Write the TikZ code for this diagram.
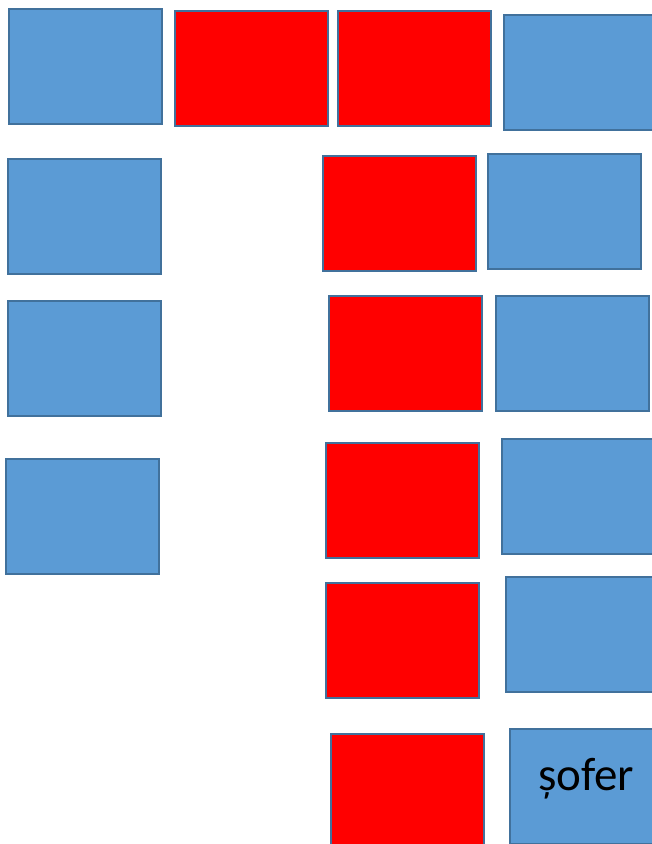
\documentclass[tikz,border=0pt]{standalone}
\usepackage{fontspec}
\setmainfont{Carlito}
\usetikzlibrary{positioning}
\definecolor{seatline}{HTML}{41719C}
\definecolor{seatblue}{HTML}{5B9BD5}
\definecolor{seatred}{HTML}{FF0000}
\tikzset{seat/.style={draw=seatline,line width=1.5pt,anchor=north west,inner sep=0pt,
    minimum width=153pt,minimum height=115pt},
  liber/.style={seat,fill=seatblue},
  ocupat/.style={seat,fill=seatred}}

\begin{document}
\begin{tikzpicture}[x=1pt,y=-1pt]
\useasboundingbox (0,0) rectangle (652,844);
\clip (0,0) rectangle (652,844);
% first row
\node[liber]  (b11) at (8,8) {};
\node[ocupat] (r12) at (174,10) {};
\node[ocupat] (r13) at (337,10) {};
\node[liber]  (b14) at (503,14) {};
% left column
\node[liber]  (b21) at (7,158) {};
\node[liber]  (b31) at (7,300) {};
\node[liber]  (b41) at (5,458) {};
% right pairs
\node[ocupat] (r22) at (322,155) {};
\node[liber]  (b23) at (487,153) {};
\node[ocupat] (r32) at (328,295) {};
\node[liber]  (b33) at (495,295) {};
\node[ocupat] (r42) at (325,442) {};
\node[liber]  (b43) at (501,438) {};
\node[ocupat] (r52) at (325,582) {};
\node[liber]  (b53) at (505,576) {};
\node[ocupat] (r62) at (330,733) {};
\node[liber,font=\fontsize{47}{56}\selectfont,text depth=24pt] (sofer) at (509,728) {șofer};
\end{tikzpicture}
\end{document}
